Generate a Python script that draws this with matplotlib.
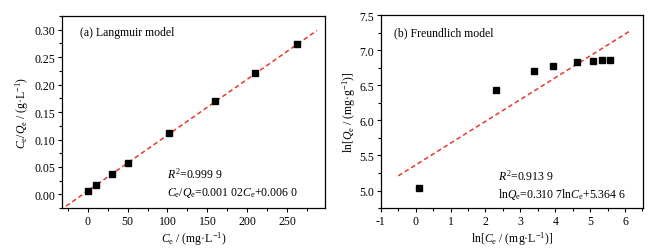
import matplotlib
matplotlib.use('Agg')
import matplotlib.pyplot as plt
import numpy as np
from matplotlib.ticker import MultipleLocator, FormatStrFormatter

plt.rcParams['font.family'] = ['Liberation Serif', 'DejaVu Serif']
plt.rcParams['mathtext.fontset'] = 'custom'
plt.rcParams['mathtext.rm'] = 'Liberation Serif'
plt.rcParams['mathtext.it'] = 'Liberation Serif:italic'
plt.rcParams['axes.unicode_minus'] = False

# Langmuir data
ce = [1, 10, 30, 51, 102, 160, 210, 262]
ce_qe = [0.007, 0.017, 0.037, 0.058, 0.111, 0.170, 0.221, 0.274]
lang_slope, lang_icpt = 0.00102, 0.0060
lang_fit_x = [-27, 287]

# Freundlich data
ln_ce = [0.08, 2.30, 3.40, 3.93, 4.62, 5.07, 5.35, 5.57]
ln_qe = [5.03, 6.43, 6.71, 6.78, 6.83, 6.85, 6.86, 6.865]
fr_slope, fr_icpt = 0.3107, 5.3646
fr_fit_x = [-0.5, 6.15]

red = '#e8372c'
fs = 8.5

fig = plt.figure(figsize=(6.51, 2.51), dpi=100)
ax1 = fig.add_axes([0.0952, 0.167, 0.404, 0.765])
ax2 = fig.add_axes([0.585, 0.167, 0.403, 0.769])

# (a) Langmuir
xf = np.array(lang_fit_x)
ax1.plot(xf, lang_slope * xf + lang_icpt, '--', color=red, linewidth=1.1, dashes=(3, 2))
ax1.plot(ce, ce_qe, 's', color='black', markersize=4.2)
ax1.set_xlim(-32, 297)
ax1.set_ylim(-0.025, 0.325)
ax1.xaxis.set_major_locator(MultipleLocator(50))
ax1.xaxis.set_minor_locator(MultipleLocator(25))
ax1.yaxis.set_major_locator(MultipleLocator(0.05))
ax1.yaxis.set_minor_locator(MultipleLocator(0.025))
ax1.yaxis.set_major_formatter(FormatStrFormatter('%.2f'))
ax1.set_xlabel(r'$C_\mathrm{e}$ / (mg·L$^{-1}$)', fontsize=fs, labelpad=1.5)
ax1.set_ylabel(r'$C_\mathrm{e}/Q_\mathrm{e}$ / (g·L$^{-1}$)', fontsize=fs, labelpad=2)
ax1.text(0.068, 0.917, '(a) Langmuir model', transform=ax1.transAxes, fontsize=fs, va='center')
ax1.text(0.40, 0.18, r'$R^2$=0.999 9', transform=ax1.transAxes, fontsize=fs, va='center')
ax1.text(0.40, 0.083, r'$C_\mathrm{e}/Q_\mathrm{e}$=0.001 02$C_\mathrm{e}$+0.006 0',
         transform=ax1.transAxes, fontsize=fs, va='center')

# (b) Freundlich
xf = np.array(fr_fit_x)
ax2.plot(xf, fr_slope * xf + fr_icpt, '--', color=red, linewidth=1.1, dashes=(3, 2))
ax2.plot(ln_ce, ln_qe, 's', color='black', markersize=4.2)
ax2.set_xlim(-1, 6.52)
ax2.set_ylim(4.75, 7.5)
ax2.xaxis.set_major_locator(MultipleLocator(1))
ax2.xaxis.set_minor_locator(MultipleLocator(0.5))
ax2.yaxis.set_major_locator(MultipleLocator(0.5))
ax2.yaxis.set_minor_locator(MultipleLocator(0.25))
ax2.yaxis.set_major_formatter(FormatStrFormatter('%.1f'))
ax2.set_xlabel(r'ln[$C_\mathrm{e}$ / (mg·L$^{-1}$)]', fontsize=fs, labelpad=1.5)
ax2.set_ylabel(r'ln[$Q_\mathrm{e}$ / (mg·g$^{-1}$)]', fontsize=fs, labelpad=1)
ax2.text(0.05, 0.91, '(b) Freundlich model', transform=ax2.transAxes, fontsize=fs, va='center')
ax2.text(0.447, 0.17, r'$R^2$=0.913 9', transform=ax2.transAxes, fontsize=fs, va='center')
ax2.text(0.447, 0.077, r'ln$Q_\mathrm{e}$=0.310 7ln$C_\mathrm{e}$+5.364 6',
         transform=ax2.transAxes, fontsize=fs, va='center')

for ax in (ax1, ax2):
    ax.tick_params(which='both', direction='out', labelsize=fs, pad=2)
    ax.tick_params(which='major', length=3, width=0.8)
    ax.tick_params(which='minor', length=2, width=0.8)
    for s in ax.spines.values():
        s.set_linewidth(0.9)

fig.savefig('out.png', dpi=100)
